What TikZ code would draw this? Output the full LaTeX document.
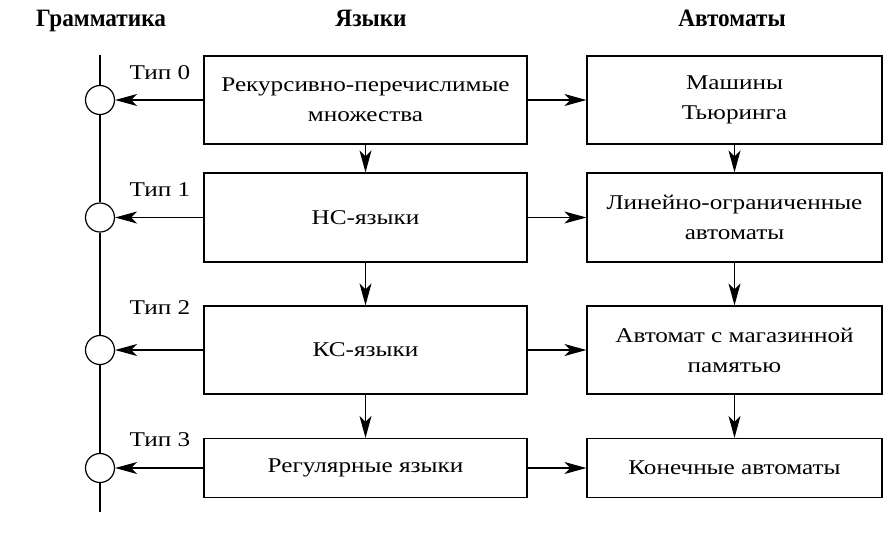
\documentclass[tikz,border=0pt]{standalone}
\usepackage{fontspec}
\setmainfont{Liberation Serif}[FakeStretch=1.2]
\newfontfamily\headfont{Liberation Serif}[FakeStretch=0.93]
\usetikzlibrary{arrows.meta}
\begin{document}
\begin{tikzpicture}[x=1pt,y=-1pt, line width=1.2pt,
  box/.style={draw, rectangle, inner sep=0pt, align=center, font=\fontsize{21}{30}\selectfont},
  lbox/.style={box, minimum width=323pt},
  rbox/.style={box, minimum width=295pt},
  port/.style={draw, circle, minimum size=29pt, inner sep=0pt, fill=white},
  arr/.style={-{Stealth[length=22pt,width=12pt,inset=6pt]}},
  head/.style={anchor=base, font=\fontsize{25}{28}\selectfont\headfont\bfseries},
  tiplbl/.style={font=\fontsize{21}{24}\selectfont}]
\useasboundingbox (0,0) rectangle (891,542);
% headers
\node[head] (H0) at (101,26) {Грамматика};
\node[head] (H1) at (371,26) {Языки};
\node[head] (H2) at (732,26) {Автоматы};
% language boxes
\node[lbox, minimum height=88pt] (L0) at (365.5,100) {Рекурсивно-перечислимые\\множества};
\node[lbox, minimum height=89pt] (L1) at (365.5,217.5) {НС-языки};
\node[lbox, minimum height=88pt] (L2) at (365.5,350) {КС-языки};
\node[lbox, minimum height=59pt] (L3) at (365.5,468) {Регулярные языки};
% automata boxes
\node[rbox, minimum height=88pt] (R0) at (734.5,100) {Машины\\Тьюринга};
\node[rbox, minimum height=89pt] (R1) at (734.5,217.5) {Линейно-ограниченные\\автоматы};
\node[rbox, minimum height=88pt] (R2) at (734.5,350) {Автомат с магазинной\\памятью};
\node[rbox, minimum height=59pt] (R3) at (734.5,468) {Конечные автоматы};
% grammar axis
\coordinate (top) at (100,55);
\coordinate (bot) at (100,512);
\node[port] (C0) at (100,100) {};
\node[port] (C1) at (100,217.5) {};
\node[port] (C2) at (100,350) {};
\node[port] (C3) at (100,468) {};
\draw (top) -- (C0) (C0) -- (C1) (C1) -- (C2) (C2) -- (C3) (C3) -- (bot);
% type labels
\node[tiplbl] (T0) at (160,73) {Тип 0};
\node[tiplbl] (T1) at (160,190) {Тип 1};
\node[tiplbl] (T2) at (160,308) {Тип 2};
\node[tiplbl] (T3) at (160,440) {Тип 3};
% arrows
\foreach \i in {0,1,2,3} {
  \draw[arr] (L\i) -- (C\i);
  \draw[arr] (L\i) -- (R\i);
}
\foreach \i/\j in {0/1,1/2,2/3} {
  \draw[arr] (L\i) -- (L\j);
  \draw[arr] (R\i) -- (R\j);
}
\end{tikzpicture}
\end{document}
